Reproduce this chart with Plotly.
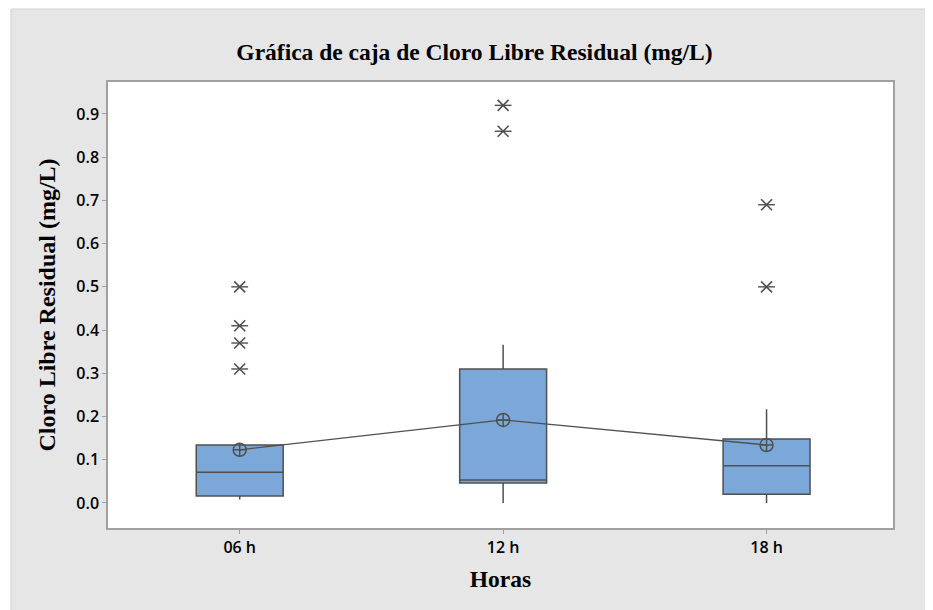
import plotly.graph_objects as go

categories = ["06 h", "12 h", "18 h"]
q1 = [0.016, 0.046, 0.020]
median = [0.071, 0.053, 0.086]
q3 = [0.134, 0.310, 0.148]
lower_whisker = [0.008, 0.0, 0.0]
upper_whisker = [0.134, 0.366, 0.217]
means = [0.123, 0.192, 0.134]
outlier_cats = ["06 h", "06 h", "06 h", "06 h", "12 h", "12 h", "18 h", "18 h"]
outlier_vals = [0.50, 0.41, 0.37, 0.31, 0.92, 0.86, 0.69, 0.50]
y_ticks = [0.0, 0.1, 0.2, 0.3, 0.4, 0.5, 0.6, 0.7, 0.8, 0.9]

title_text = "Gráfica de caja de Cloro Libre Residual (mg/L)"
y_title = "Cloro Libre Residual (mg/L)"
x_title = "Horas"

line_col = "#505050"
fill_col = "#7BA7D9"
serif = "Liberation Serif, Times New Roman, serif"
sans = "Open Sans, sans-serif"

fig = go.Figure()
fig.add_trace(go.Box(
    x=categories, q1=q1, median=median, q3=q3,
    lowerfence=lower_whisker, upperfence=upper_whisker,
    boxpoints=False, width=0.33, whiskerwidth=0,
    fillcolor=fill_col, line=dict(color=line_col, width=1.5),
    showlegend=False, hoverinfo="skip",
))
fig.add_trace(go.Scatter(
    x=categories, y=means, mode="lines+markers",
    line=dict(color=line_col, width=1.3),
    marker=dict(symbol="circle-cross-open", size=13, color=line_col,
                line=dict(width=1.5, color=line_col)),
    showlegend=False,
))
# Minitab-style asterisk: an X plus a horizontal bar
fig.add_trace(go.Scatter(
    x=outlier_cats, y=outlier_vals, mode="markers",
    marker=dict(symbol="x-thin-open", size=11, color=line_col,
                line=dict(width=1.6, color=line_col)),
    showlegend=False,
))
fig.add_trace(go.Scatter(
    x=outlier_cats, y=outlier_vals, mode="markers",
    marker=dict(symbol="line-ew-open", size=12, color=line_col,
                line=dict(width=1.4, color=line_col)),
    showlegend=False,
))

fig.update_layout(
    width=933, height=610,
    margin=dict(l=100, r=48, t=74, b=90),
    paper_bgcolor="white",
    plot_bgcolor="white",
    title=dict(text="<b>" + title_text + "</b>", x=0.5, xanchor="center",
               y=0.928, yanchor="middle", yref="container",
               font=dict(family=serif, size=23.5, color="black")),
    shapes=[
        dict(type="rect", xref="paper", yref="paper",
             x0=-0.1236, x1=1.2, y0=-0.4, y1=1.1637,
             fillcolor="#E6E6E6", line=dict(color="#D2D2D2", width=1),
             layer="below"),
        dict(type="rect", xref="paper", yref="paper",
             x0=0, x1=1, y0=0, y1=1,
             fillcolor="white", line=dict(width=0), layer="below"),
    ],
)
fig.update_xaxes(
    type="category", range=[-0.5, 2.48],
    showline=True, mirror=True, linecolor="#A0A0A0", linewidth=1.5,
    ticks="outside", ticklen=4, tickcolor="#A0A0A0", tickwidth=1,
    showgrid=False, zeroline=False,
    tickfont=dict(family=sans, size=16, color="black", weight=600),
    title=dict(text="<b>" + x_title + "</b>", standoff=14,
               font=dict(family=serif, size=23.5, color="black")),
)
fig.update_yaxes(
    range=[-0.058, 0.974], tickvals=y_ticks, tickformat=".1f",
    showline=True, mirror=True, linecolor="#A0A0A0", linewidth=1.5,
    ticks="outside", ticklen=4, tickcolor="#A0A0A0", tickwidth=1,
    showgrid=False, zeroline=False,
    tickfont=dict(family=sans, size=16, color="black", weight=600),
    title=dict(text="<b>" + y_title + "</b>", standoff=14,
               font=dict(family=serif, size=24, color="black")),
)

fig.write_html("out.html")
